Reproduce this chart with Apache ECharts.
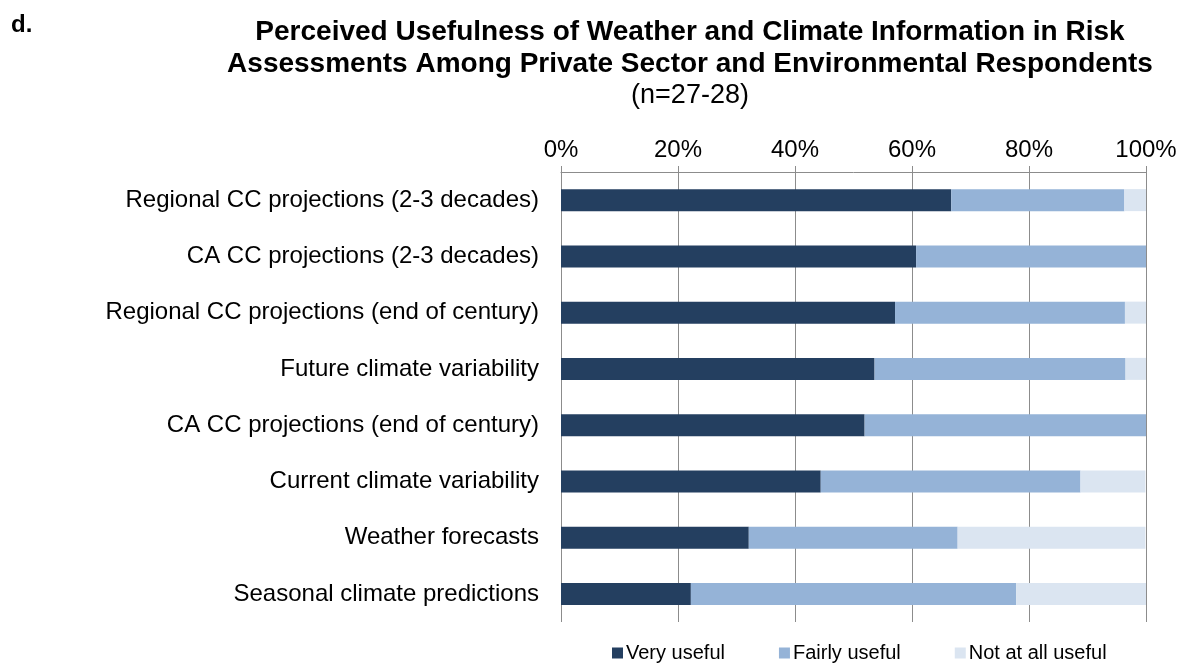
<!DOCTYPE html>
<html>
<head>
<meta charset="utf-8">
<script src="https://cdn.jsdelivr.net/npm/echarts@6/dist/echarts.min.js"></script>
<style>
html,body{margin:0;padding:0;background:#fff;}
#c{width:1186px;height:667px;}
</style>
</head>
<body>
<div id="c"></div>
<script>
const categories = [
  "Regional CC projections (2-3 decades)",
  "CA CC projections (2-3 decades)",
  "Regional CC projections (end of century)",
  "Future climate variability",
  "CA CC projections (end of century)",
  "Current climate variability",
  "Weather forecasts",
  "Seasonal climate predictions"
];
const veryUseful   = [66.7, 60.7, 57.1, 53.6, 51.9, 44.4, 32.1, 22.2];
const fairlyUseful = [29.6, 39.3, 39.3, 42.9, 48.1, 44.4, 35.7, 55.6];
const notAtAll     = [3.7, 0, 3.6, 3.6, 0, 11.1, 32.1, 22.2];
const seriesNames = ["Very useful", "Fairly useful", "Not at all useful"];
const tickLabels = ["0%", "20%", "40%", "60%", "80%", "100%"];

const colors = ["#243F60", "#95B3D7", "#DBE5F1"];
const FONT = "Liberation Sans, Arial, sans-serif";

const chart = echarts.init(document.getElementById('c'));
const vals = [veryUseful, fairlyUseful, notAtAll];
chart.setOption({
  animation: false,
  color: colors,
  textStyle: { fontFamily: FONT },
  title: [
    { text: "d.", left: 6, top: 8, textStyle: { fontFamily: FONT, fontSize: 24, fontWeight: "bold", color: "#000" } },
    { text: "Perceived Usefulness of Weather and Climate Information in Risk\nAssessments Among Private Sector and Environmental Respondents",
      left: 685, textAlign: "center", top: 11,
      textStyle: { fontFamily: FONT, fontSize: 28, fontWeight: "bold", color: "#000", lineHeight: 32 } },
    { text: "(n=27-28)", left: 685, textAlign: "center", top: 75,
      textStyle: { fontFamily: FONT, fontSize: 27, fontWeight: "normal", color: "#000", lineHeight: 32 } }
  ],
  legend: {
    top: 643, left: 612, padding: 0,
    itemWidth: 11, itemHeight: 11, itemGap: 54,
    icon: "rect",
    textStyle: { fontFamily: FONT, fontSize: 20, color: "#000", padding: [0,0,0,-2] },
    data: seriesNames
  },
  grid: { left: 561, right: 40, top: 172, bottom: 45 },
  xAxis: {
    type: "value", position: "top", min: 0, max: 100, interval: 20,
    axisLine: { show: true, lineStyle: { color: "#8c8c8c", width: 1 } },
    axisTick: { show: true, length: 6, lineStyle: { color: "#8c8c8c" } },
    splitLine: { show: true, lineStyle: { color: "#8c8c8c", width: 1 } },
    axisLabel: { fontFamily: FONT, fontSize: 24, color: "#000", margin: 10,
      formatter: (v) => tickLabels[Math.round(v / 20)] }
  },
  yAxis: {
    type: "category", inverse: true, data: categories,
    axisLine: { show: false }, axisTick: { show: false },
    axisLabel: { fontFamily: FONT, fontSize: 24, color: "#000", margin: 22 }
  },
  series: seriesNames.map((n, i) => ({
    name: n, type: "bar", stack: "total", barWidth: 22,
    data: vals[i],
    itemStyle: { color: colors[i] }
  }))
});
</script>
</body>
</html>
